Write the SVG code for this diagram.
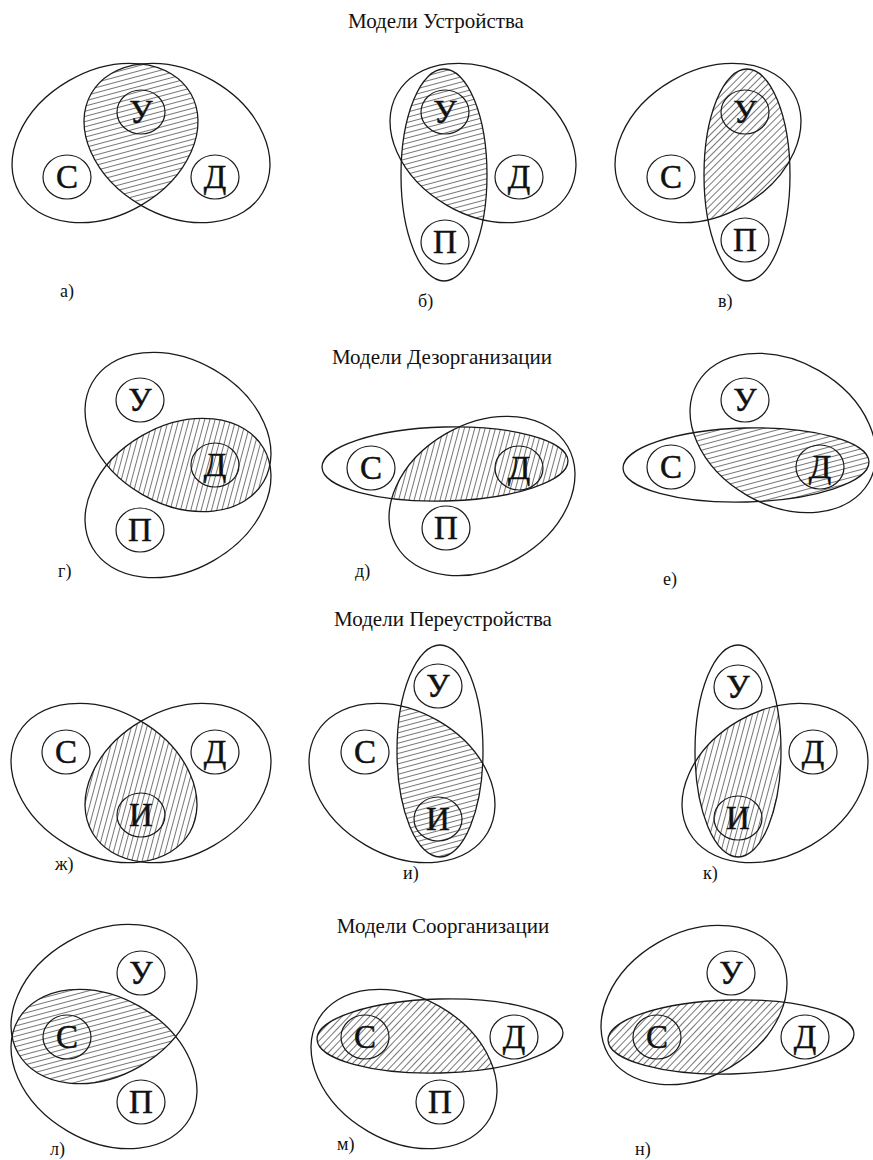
<svg xmlns="http://www.w3.org/2000/svg" width="873" height="1160" viewBox="0 0 873 1160">
<style>
.big{fill:none;stroke:#1a1a1a;stroke-width:1.3}
.hat{fill:url(#hatch);stroke:none}
.node ellipse{fill:none;stroke:#1a1a1a;stroke-width:1.2}
.let{font-family:"Liberation Serif","Times New Roman",serif;font-size:33px;text-anchor:middle;fill:#111;stroke:#111;stroke-width:0.5}
.lab{font-family:"Liberation Serif","Times New Roman",serif;font-size:18px;fill:#111}
.title{font-family:"Liberation Serif","Times New Roman",serif;font-size:21px;text-anchor:middle;fill:#111}
</style>
<defs>
<pattern id="hatch" width="5" height="5" patternUnits="userSpaceOnUse" patternTransform="rotate(45)">
<line x1="0" y1="-1" x2="0" y2="6" stroke="#1a1a1a" stroke-width="1.2"/>
</pattern>
<ellipse id="tL" cx="0" cy="0" rx="99" ry="72" transform="rotate(-30)"/>
<ellipse id="tR" cx="0" cy="0" rx="99" ry="72" transform="rotate(30)"/>
<ellipse id="vE" cx="0" cy="0" rx="43" ry="106"/>
<ellipse id="hE" cx="0" cy="0" rx="123" ry="37" transform="rotate(-1.5)"/>
<clipPath id="ca"><use href="#tL" x="105" y="143"/></clipPath>
<clipPath id="cb"><use href="#vE" x="444" y="175"/></clipPath>
<clipPath id="cv"><use href="#tL" x="708" y="143"/></clipPath>
<clipPath id="cg"><use href="#tR" x="178" y="432"/></clipPath>
<clipPath id="cd"><use href="#hE" x="445" y="464"/></clipPath>
<clipPath id="ce"><use href="#hE" x="746" y="465"/></clipPath>
<clipPath id="cz"><use href="#tR" x="104" y="783"/></clipPath>
<clipPath id="ci"><use href="#vE" x="440" y="751"/></clipPath>
<clipPath id="ck"><use href="#vE" x="738" y="751"/></clipPath>
<clipPath id="cl"><use href="#tL" x="104" y="1004"/></clipPath>
<clipPath id="cm"><use href="#tR" x="404" y="1069"/></clipPath>
<clipPath id="cn"><use href="#tL" x="694" y="1005"/></clipPath>
</defs>
<rect width="873" height="1160" fill="#fff"/>

<text class="title" x="436" y="28">Модели Устройства</text>
<text class="title" x="442" y="364">Модели Дезорганизации</text>
<text class="title" x="443" y="626">Модели Переустройства</text>
<text class="title" x="443" y="933">Модели Соорганизации</text>

<!-- а -->
<g id="panel-a">
<g clip-path="url(#ca)"><use class="hat" href="#tR" x="177" y="143"/></g>
<use class="big" href="#tL" x="105" y="143"/>
<use class="big" href="#tR" x="177" y="143"/>
<g id="a-U" class="node"><ellipse cx="141" cy="112" rx="24" ry="22"/><text class="let" x="141" y="123">У</text></g>
<g id="a-S" class="node"><ellipse cx="67" cy="177" rx="24" ry="22"/><text class="let" x="67" y="188">С</text></g>
<g id="a-D" class="node"><ellipse cx="215" cy="177" rx="24" ry="22"/><text class="let" x="215" y="188">Д</text></g>
<text class="lab" x="60" y="297">а)</text>
</g>

<!-- б -->
<g id="panel-b">
<g clip-path="url(#cb)"><use class="hat" href="#tR" x="483" y="143"/></g>
<use class="big" href="#vE" x="444" y="175"/>
<use class="big" href="#tR" x="483" y="143"/>
<g id="b-U" class="node"><ellipse cx="445" cy="112" rx="24" ry="22"/><text class="let" x="445" y="123">У</text></g>
<g id="b-D" class="node"><ellipse cx="519" cy="177" rx="24" ry="22"/><text class="let" x="519" y="188">Д</text></g>
<g id="b-P" class="node"><ellipse cx="445" cy="242" rx="24" ry="22"/><text class="let" x="445" y="253">П</text></g>
<text class="lab" x="418" y="307">б)</text>
</g>

<!-- в -->
<g id="panel-v">
<g clip-path="url(#cv)"><use class="hat" href="#vE" x="747" y="175"/></g>
<use class="big" href="#tL" x="708" y="143"/>
<use class="big" href="#vE" x="747" y="175"/>
<g id="v-U" class="node"><ellipse cx="745" cy="112" rx="24" ry="22"/><text class="let" x="745" y="123">У</text></g>
<g id="v-S" class="node"><ellipse cx="671" cy="177" rx="24" ry="22"/><text class="let" x="671" y="188">С</text></g>
<g id="v-P" class="node"><ellipse cx="745" cy="240" rx="24" ry="22"/><text class="let" x="745" y="251">П</text></g>
<text class="lab" x="718" y="307">в)</text>
</g>

<!-- г -->
<g id="panel-g">
<g clip-path="url(#cg)"><use class="hat" href="#tL" x="178" y="498"/></g>
<use class="big" href="#tR" x="178" y="432"/>
<use class="big" href="#tL" x="178" y="498"/>
<g id="g-U" class="node"><ellipse cx="140" cy="400" rx="24" ry="22"/><text class="let" x="140" y="411">У</text></g>
<g id="g-D" class="node"><ellipse cx="215" cy="465" rx="24" ry="22"/><text class="let" x="215" y="476">Д</text></g>
<g id="g-P" class="node"><ellipse cx="140" cy="530" rx="24" ry="22"/><text class="let" x="140" y="541">П</text></g>
<text class="lab" x="58" y="577">г)</text>
</g>

<!-- д -->
<g id="panel-d">
<g clip-path="url(#cd)"><use class="hat" href="#tL" x="482" y="496"/></g>
<use class="big" href="#hE" x="445" y="464"/>
<use class="big" href="#tL" x="482" y="496"/>
<g id="d-S" class="node"><ellipse cx="371" cy="468" rx="24" ry="22"/><text class="let" x="371" y="479">С</text></g>
<g id="d-D" class="node"><ellipse cx="519" cy="468" rx="24" ry="22"/><text class="let" x="519" y="479">Д</text></g>
<g id="d-P" class="node"><ellipse cx="446" cy="528" rx="24" ry="22"/><text class="let" x="446" y="539">П</text></g>
<text class="lab" x="355" y="577">д)</text>
</g>

<!-- е -->
<g id="panel-e">
<g clip-path="url(#ce)"><use class="hat" href="#tR" x="783" y="433"/></g>
<use class="big" href="#hE" x="746" y="465"/>
<use class="big" href="#tR" x="783" y="433"/>
<g id="e-U" class="node"><ellipse cx="745" cy="400" rx="24" ry="22"/><text class="let" x="745" y="411">У</text></g>
<g id="e-S" class="node"><ellipse cx="671" cy="467" rx="24" ry="22"/><text class="let" x="671" y="478">С</text></g>
<g id="e-D" class="node"><ellipse cx="820" cy="467" rx="24" ry="22"/><text class="let" x="820" y="478">Д</text></g>
<text class="lab" x="663" y="585">е)</text>
</g>

<!-- ж -->
<g id="panel-zh">
<g clip-path="url(#cz)"><use class="hat" href="#tL" x="178" y="783"/></g>
<use class="big" href="#tR" x="104" y="783"/>
<use class="big" href="#tL" x="178" y="783"/>
<g id="zh-S" class="node"><ellipse cx="66" cy="752" rx="24" ry="22"/><text class="let" x="66" y="763">С</text></g>
<g id="zh-D" class="node"><ellipse cx="215" cy="752" rx="24" ry="22"/><text class="let" x="215" y="763">Д</text></g>
<g id="zh-P" class="node"><ellipse cx="141" cy="815" rx="24" ry="22"/><text class="let" x="141" y="826">И</text></g>
<text class="lab" x="55" y="870">ж)</text>
</g>

<!-- и -->
<g id="panel-i">
<g clip-path="url(#ci)"><use class="hat" href="#tR" x="402" y="783"/></g>
<use class="big" href="#vE" x="440" y="751"/>
<use class="big" href="#tR" x="402" y="783"/>
<g id="i-U" class="node"><ellipse cx="438" cy="686" rx="24" ry="22"/><text class="let" x="438" y="697">У</text></g>
<g id="i-S" class="node"><ellipse cx="365" cy="752" rx="24" ry="22"/><text class="let" x="365" y="763">С</text></g>
<g id="i-P" class="node"><ellipse cx="438" cy="819" rx="24" ry="22"/><text class="let" x="438" y="830">И</text></g>
<text class="lab" x="403" y="879">и)</text>
</g>

<!-- к -->
<g id="panel-k">
<g clip-path="url(#ck)"><use class="hat" href="#tL" x="775" y="783"/></g>
<use class="big" href="#vE" x="738" y="751"/>
<use class="big" href="#tL" x="775" y="783"/>
<g id="k-U" class="node"><ellipse cx="738" cy="687" rx="24" ry="22"/><text class="let" x="738" y="698">У</text></g>
<g id="k-D" class="node"><ellipse cx="813" cy="752" rx="24" ry="22"/><text class="let" x="813" y="763">Д</text></g>
<g id="k-P" class="node"><ellipse cx="738" cy="818" rx="24" ry="22"/><text class="let" x="738" y="829">И</text></g>
<text class="lab" x="703" y="879">к)</text>
</g>

<!-- л -->
<g id="panel-l">
<g clip-path="url(#cl)"><use class="hat" href="#tR" x="104" y="1069"/></g>
<use class="big" href="#tL" x="104" y="1004"/>
<use class="big" href="#tR" x="104" y="1069"/>
<g id="l-U" class="node"><ellipse cx="141" cy="973" rx="24" ry="22"/><text class="let" x="141" y="984">У</text></g>
<g id="l-S" class="node"><ellipse cx="67" cy="1037" rx="24" ry="22"/><text class="let" x="67" y="1048">С</text></g>
<g id="l-P" class="node"><ellipse cx="141" cy="1102" rx="24" ry="22"/><text class="let" x="141" y="1113">П</text></g>
<text class="lab" x="50" y="1155">л)</text>
</g>

<!-- м -->
<g id="panel-m">
<g clip-path="url(#cm)"><use class="hat" href="#hE" x="440" y="1036"/></g>
<use class="big" href="#tR" x="404" y="1069"/>
<use class="big" href="#hE" x="440" y="1036"/>
<g id="m-S" class="node"><ellipse cx="365" cy="1037" rx="24" ry="22"/><text class="let" x="365" y="1048">С</text></g>
<g id="m-D" class="node"><ellipse cx="514" cy="1037" rx="24" ry="22"/><text class="let" x="514" y="1048">Д</text></g>
<g id="m-P" class="node"><ellipse cx="440" cy="1102" rx="24" ry="22"/><text class="let" x="440" y="1113">П</text></g>
<text class="lab" x="337" y="1150">м)</text>
</g>

<!-- н -->
<g id="panel-n">
<g clip-path="url(#cn)"><use class="hat" href="#hE" x="731" y="1037"/></g>
<use class="big" href="#tL" x="694" y="1005"/>
<use class="big" href="#hE" x="731" y="1037"/>
<g id="n-U" class="node"><ellipse cx="731" cy="973" rx="24" ry="22"/><text class="let" x="731" y="984">У</text></g>
<g id="n-S" class="node"><ellipse cx="657" cy="1037" rx="24" ry="22"/><text class="let" x="657" y="1048">С</text></g>
<g id="n-D" class="node"><ellipse cx="805" cy="1037" rx="24" ry="22"/><text class="let" x="805" y="1048">Д</text></g>
<text class="lab" x="635" y="1155">н)</text>
</g>
</svg>
